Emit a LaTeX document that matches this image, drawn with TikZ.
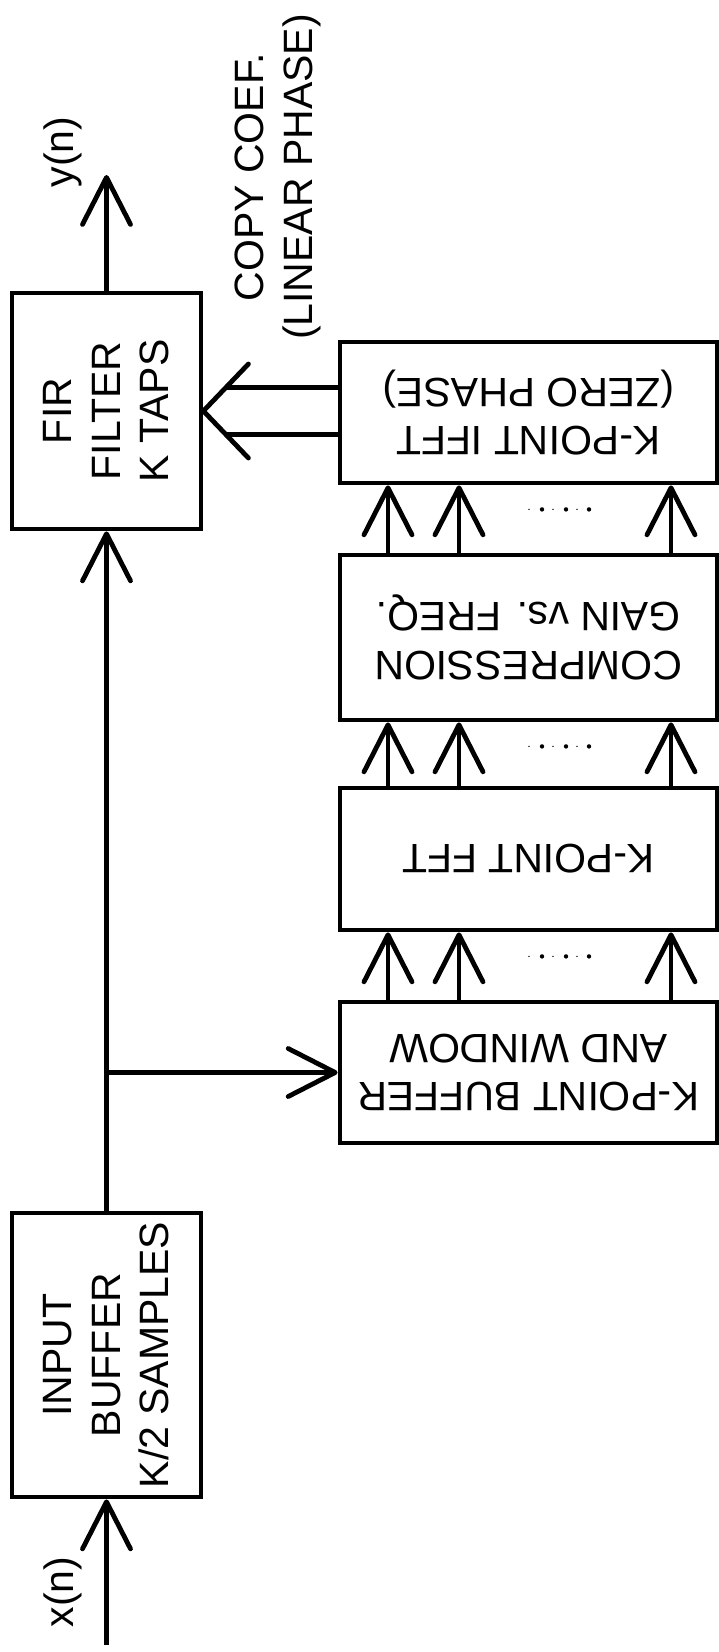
\documentclass[tikz,border=0pt]{standalone}
\usepackage{fontspec}
\setmainfont{Liberation Sans}
\usetikzlibrary{arrows.meta,calc}
\begin{document}
\begin{tikzpicture}[x=1pt,y=-1pt,
  line width=4.8pt,
  box/.style={draw, rectangle, inner sep=0pt},
  lbl/.style={font=\fontsize{41}{48.5}\selectfont, align=center, inner sep=0pt},
  flow/.style={-{Straight Barb[length=47pt,width=48pt,round]}},
  dotbig/.style={fill=black},
]
\useasboundingbox (0,0) rectangle (718,1652);
\fill[white] (0,0) rectangle (718,1652);

% left column: filter and input buffer
\node[box, minimum width=189pt, minimum height=236pt] (fir) at (106.5,411) {};
\node[lbl, rotate=90] (firtxt) at (fir.center) {FIR\\FILTER\\K TAPS};
\node[box, minimum width=189pt, minimum height=284pt] (inbuf) at (106.5,1355) {};
\node[lbl, rotate=90] (inbuftxt) at (inbuf.center) {INPUT\\BUFFER\\K/2 SAMPLES};

% right column: coefficient computation chain
\node[box, minimum width=377pt, minimum height=141pt] (ifft) at (528.5,412.5) {};
\node[lbl, rotate=180] (iffttxt) at (ifft.center) {K-POINT IFFT\\(ZERO PHASE)};
\node[box, minimum width=377pt, minimum height=165pt] (comp) at (528.5,637.5) {};
\node[lbl, rotate=180] (comptxt) at (comp.center) {COMPRESSION\\GAIN vs. FREQ.};
\node[box, minimum width=377pt, minimum height=142pt] (fft) at (528.5,859) {};
\node[lbl, rotate=180] (ffttxt) at (fft.center) {K-POINT FFT};
\node[box, minimum width=377pt, minimum height=141pt] (bufwin) at (528.5,1072.5) {};
\node[lbl, rotate=180] (bufwintxt) at (bufwin.center) {K-POINT BUFFER\\AND WINDOW};

% signal labels
\node[lbl, rotate=90] (yout) at (63,152) {y(n)};
\node[lbl, rotate=90] (xin) at (63,1592) {x(n)};
\node[lbl, rotate=90] (copy) at (278,177) {COPY COEF.\\(LINEAR PHASE)};

% main signal path
\coordinate (yend) at (106.5,175);
\coordinate (xstart) at (106.5,1645);
\draw[flow] (xstart) -- (inbuf.south);
\draw[flow] (inbuf.north) -- (fir.south);
\draw[flow] (fir.north) -- (yend);
\draw[flow] (fir.south |- bufwin.west) -- (bufwin.west);

% parallel bins between the stages
\coordinate (k1) at (388,0);
\coordinate (k2) at (459,0);
\coordinate (k3) at (671,0);
\foreach \lo/\hi in {bufwin/fft, fft/comp, comp/ifft} {
  \foreach \k in {k1,k2,k3} {
    \draw[flow] (\k |- \lo.north) -- (\k |- \hi.south);
  }
  \foreach \dx in {13.5,37.5,60.5} {
    \fill[dotbig] ($(\hi.south)+(\dx,24)$) circle (2.2pt);
  }
  \foreach \dx in {0.5,24.5,48.5} {
    \fill ($(\hi.south)+(\dx,24)$) circle (0.8pt);
  }
}

% coefficient bus into the filter
\coordinate (busA) at ($(fir.east)+(23,-23.5)$);
\coordinate (busB) at ($(fir.east)+(23,23.5)$);
\draw (ifft.west |- busA) -- (busA);
\draw (ifft.west |- busB) -- (busB);
\draw[line cap=round, line join=round] ($(fir.east)+(45,-47)$) -- (fir.east) -- ($(fir.east)+(45,47)$);
\end{tikzpicture}
\end{document}
